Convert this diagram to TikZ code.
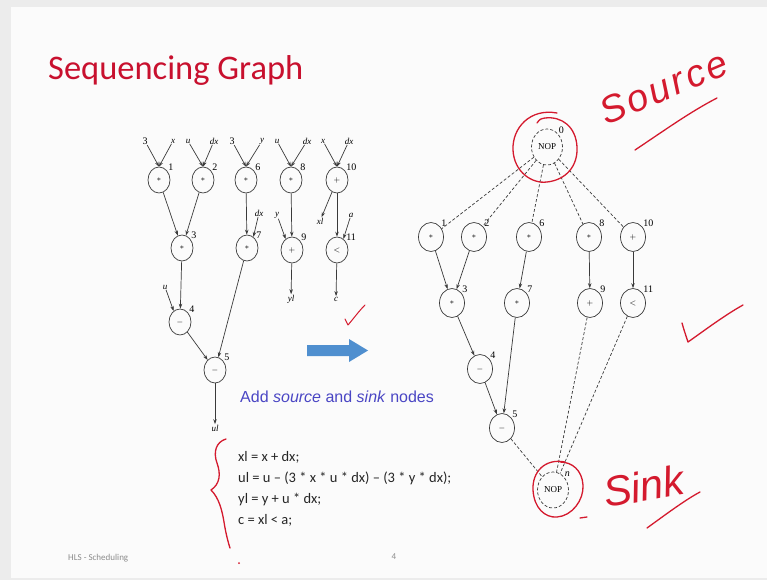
\documentclass[tikz,border=0pt]{standalone}
\usepackage{fontspec}
\setmainfont{Liberation Serif}
\newfontfamily\slidefont{Carlito}
\newfontfamily\bodyfont{Liberation Sans}
\usetikzlibrary{arrows.meta,shapes.geometric}
\definecolor{sgInk}{HTML}{3A3A3A}
\definecolor{sgTitle}{HTML}{C8102E}
\definecolor{sgBlue}{HTML}{4A46C4}
\definecolor{sgArrow}{HTML}{4F8FCF}
\definecolor{sgPen}{HTML}{D41A2E}
\definecolor{sgPage}{HTML}{FBFBFB}
\definecolor{sgRim}{HTML}{ECECEC}
\definecolor{sgFoot}{HTML}{8C8C8C}
\tikzset{
  sg op/.style={ellipse, draw=sgInk, line width=0.7pt, minimum width=22pt, minimum height=26pt, inner sep=0pt, font=\fontsize{8}{8}\selectfont},
  sg op big/.style={sg op, minimum width=25pt, minimum height=29pt},
  sg nop/.style={ellipse, draw=sgInk, densely dashed, line width=0.7pt, minimum width=31pt, minimum height=36pt, inner sep=0pt, font=\fontsize{9}{9}\selectfont},
  sg edge/.style={draw=sgInk, line width=0.7pt, -{Stealth[length=5pt,width=3.5pt]}},
  sg dep/.style={draw=sgInk, line width=0.7pt, densely dashed},
  sg var/.style={font=\fontsize{9}{9}\selectfont\itshape, inner sep=0.5pt},
  sg num/.style={font=\fontsize{10}{10}\selectfont, inner sep=0.5pt},
  sg pen/.style={draw=sgPen, line width=1.3pt, line cap=round, line join=round},
  sg hand/.style={text=sgPen, font=\bodyfont\itshape\fontsize{38}{38}\selectfont\addfontfeatures{LetterSpace=8}, inner sep=0pt},
}

\begin{document}
\begin{tikzpicture}[x=1pt, y=-1pt]
  \useasboundingbox (0,0) rectangle (767,580);
  \fill[sgRim] (0,0) rectangle (767,580);
  \fill[sgPage] (11,7) rectangle (767,578);

  % slide title and footer
  \node[anchor=base west, inner sep=0pt, text=sgTitle, font=\slidefont\fontsize{34.5}{40}\selectfont] (title) at (48,80) {Sequencing Graph};
  \node[anchor=west, inner sep=0pt, text=sgFoot, font=\slidefont\fontsize{9}{10}\selectfont] (foot) at (68,558) {HLS - Scheduling};
  \node[text=sgFoot, font=\slidefont\fontsize{9}{10}\selectfont] (page) at (394,557) {4};

  % Left: sequencing graph without source and sink
  \node[sg op] (L1) at (159,180) {$\ast$};
  \node[sg op] (L2) at (203,180) {$\ast$};
  \node[sg op] (L6) at (246,180) {$\ast$};
  \node[sg op] (L8) at (291,180) {$\ast$};
  \node[sg op] (L10) at (337,180) {$+$};
  \node[sg op] (L3) at (182,248) {$\ast$};
  \node[sg op] (L7) at (247,248) {$\ast$};
  \node[sg op] (L9) at (292,250) {$+$};
  \node[sg op] (L11) at (337,250) {$<$};
  \node[sg op] (L4) at (180,322) {$-$};
  \node[sg op] (L5) at (215,370) {$-$};
  \foreach \n in {1,2,6,8,10,3,7,9,11,4,5}
    \node[sg num, anchor=south west] at (L\n.45) {\n};

  \node[sg num] (a1) at (145,141) {3};
  \node[sg var] (b1) at (173,141) {x};
  \node[sg var] (a2) at (188,141) {u};
  \node[sg var] (b2) at (214,141) {dx};
  \node[sg num] (a6) at (232,141) {3};
  \node[sg var] (b6) at (262,141) {y};
  \node[sg var] (a8) at (277,141) {u};
  \node[sg var] (b8) at (307,141) {dx};
  \node[sg var] (a10) at (323,141) {x};
  \node[sg var] (b10) at (349,141) {dx};
  \foreach \n in {1,2,6,8,10} {
    \draw[sg edge] (a\n) -- (L\n.north);
    \draw[sg edge] (b\n) -- (L\n.north);
  }
  \node[sg var] (dx7) at (259,213) {dx};
  \node[sg var] (y9) at (277,215) {y};
  \node[sg var] (a11) at (351,215) {a};
  \node[sg var] (u4) at (165,287) {u};
  \node[sg var] (xl) at (320,221) {xl};
  \node[sg var] (yl) at (291,299) {yl};
  \node[sg var] (c) at (336,299) {c};
  \node[sg var] (ul) at (215,428) {ul};

  \draw[sg edge] (L1) -- (L3);
  \draw[sg edge] (L2) -- (L3);
  \draw[sg edge] (L6) -- (L7);
  \draw[sg edge] (L8) -- (L9);
  \draw[sg edge] (L10) -- (L11);
  \draw[sg edge] (L3) -- (L4);
  \draw[sg edge] (L4) -- (L5);
  \draw[sg edge] (L7) -- (L5);
  \draw[sg edge] (dx7) -- (L7.60);
  \draw[sg edge] (y9) -- (L9.120);
  \draw[sg edge] (a11) -- (L11.60);
  \draw[sg edge] (u4) -- (L4.120);
  \draw[sg edge] (L10) -- (xl);
  \draw[sg edge] (L9) -- (yl);
  \draw[sg edge] (L11) -- (c);
  \draw[sg edge] (L5) -- (ul);

  % Middle: arrow, caption and code
  \fill[sgArrow] (307,345) -- (349,345) -- (349,339) -- (368,350.5) -- (349,362) -- (349,356) -- (307,356) -- cycle;
  \node[anchor=west, inner sep=0pt, text=sgBlue, font=\bodyfont\fontsize{16}{18}\selectfont] (add) at (240,397)
    {Add \textit{source} and \textit{sink} nodes};
  \node[anchor=north west, align=left, inner sep=0pt, text=black!85, font=\slidefont\fontsize{14.5}{21}\selectfont] (code) at (238,451)
    {xl = x + dx;\\ ul = u – (3 * x * u * dx) – (3 * y * dx);\\ yl = y + u * dx;\\ c = xl < a;};

  % Right: graph with source and sink
  \node[sg nop] (R0) at (547,147) {NOP};
  \node[sg op big] (R1) at (431,237) {$\ast$};
  \node[sg op big] (R2) at (474,237) {$\ast$};
  \node[sg op big] (R6) at (529,237) {$\ast$};
  \node[sg op big] (R8) at (589,237) {$\ast$};
  \node[sg op big] (R10) at (633,237) {$+$};
  \node[sg op big] (R3) at (452,303) {$\ast$};
  \node[sg op big] (R7) at (517,303) {$\ast$};
  \node[sg op big] (R9) at (590,303) {$+$};
  \node[sg op big] (R11) at (633,303) {$<$};
  \node[sg op big] (R4) at (480,369) {$-$};
  \node[sg op big] (R5) at (502,428) {$-$};
  \node[sg nop] (Rn) at (553,490) {NOP};
  \foreach \n in {1,2,6,8,10,3,7,9,11,4,5}
    \node[sg num, anchor=south west] at (R\n.45) {\n};
  \node[sg num, anchor=south west] at (R0.50) {0};
  \node[sg num, anchor=south west, font=\fontsize{10}{10}\selectfont\itshape] at (Rn.50) {n};

  \foreach \n in {1,2,6,8,10}
    \draw[sg dep] (R0) -- (R\n);
  \foreach \n in {5,9,11}
    \draw[sg dep] (R\n) -- (Rn);
  \draw[sg edge] (R1) -- (R3);
  \draw[sg edge] (R2) -- (R3);
  \draw[sg edge] (R6) -- (R7);
  \draw[sg edge] (R8) -- (R9);
  \draw[sg edge] (R10) -- (R11);
  \draw[sg edge] (R3) -- (R4);
  \draw[sg edge] (R4) -- (R5);
  \draw[sg edge] (R7) -- (R5);

  % red pen notes
  \draw[sg pen] (557,113) .. controls (530,108) and (512,128) .. (513,150) .. controls (514,172) and (532,184) .. (547,182)
    .. controls (566,180) and (578,166) .. (577,147) .. controls (576,127) and (562,116) .. (545,118) .. controls (540,119) .. (537,123);
  \node[sg hand, anchor=base west, rotate=23] (source) at (606,126) {Source};
  \draw[sg pen] (635,150) .. controls (665,130) and (690,112) .. (717,98);
  \draw[sg pen] (565,462) .. controls (545,458) and (532,472) .. (533,490) .. controls (534,508) and (545,518) .. (557,517)
    .. controls (572,516) and (584,500) .. (583,485) .. controls (582,470) and (572,462) .. (560,462);
  \draw[sg pen] (580,518) -- (587,517);
  \node[sg hand, anchor=base west, rotate=10, font=\bodyfont\itshape\fontsize{42}{42}\selectfont] (sink) at (606,508) {Sink};
  \draw[sg pen] (647,528) .. controls (665,515) and (685,500) .. (700,492);
  \draw[sg pen, line width=1pt] (345,319) .. controls (347,322) .. (348,325) .. controls (354,318) and (359,311) .. (365,305);
  \draw[sg pen] (682,323) .. controls (684,330) .. (688,342) .. controls (705,330) and (725,315) .. (743,305);
  \draw[sg pen] (226,439) .. controls (216,442) and (213,452) .. (217,463) .. controls (221,474) and (220,484) .. (211,490)
    .. controls (219,498) and (222,510) .. (224,522) .. controls (226,535) and (229,545) .. (230,548);
  \fill[sgPen] (239,563) circle (1pt);
\end{tikzpicture}
\end{document}
